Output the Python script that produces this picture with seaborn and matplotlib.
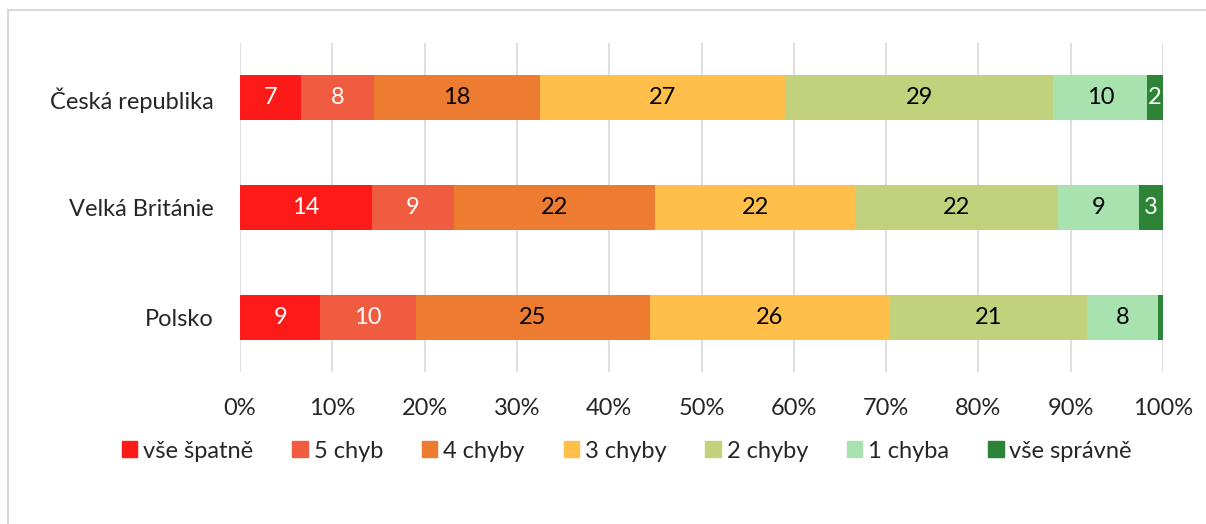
import matplotlib
matplotlib.use('Agg')
import matplotlib.pyplot as plt
import matplotlib.patches as mpatches
from matplotlib.ticker import PercentFormatter
import pandas as pd
import numpy as np
import seaborn as sns

countries = ['Česká republika', 'Velká Británie', 'Polsko']
categories = ['vše špatně', '5 chyb', '4 chyby', '3 chyby', '2 chyby', '1 chyba', 'vše správně']

# shares in % (rows = countries, in category order)
cz = [6.6, 7.9, 18.0, 26.6, 29.1, 10.2, 1.7]
gb = [14.3, 8.9, 21.8, 21.6, 22.0, 8.8, 2.6]
pl = [8.7, 10.3, 25.4, 25.9, 21.4, 7.7, 0.5]

colors = ['#FF1A1A', '#F05C40', '#ED7B30', '#FFBF4A', '#C2D27C', '#A8E2AE', '#2E8436']
label_colors = ['white', 'white', 'black', 'black', 'black', 'black', 'white']

sns.set_style('white')
plt.rcParams['font.family'] = ['Lato', 'DejaVu Sans']
fs = 17

vals = np.array([cz, gb, pl], dtype=float)
vals = vals / vals.sum(axis=1, keepdims=True)
left = np.zeros(len(countries))

fig = plt.figure(figsize=(12.06, 5.24), dpi=100)
ax = fig.add_axes([240/1206, 1-372/524, (1163-240)/1206, (372-43)/524])

for i, cat in enumerate(categories):
    df = pd.DataFrame({'country': countries, 'share': vals[:, i]})
    sns.barplot(data=df, x='share', y='country', orient='y', color=colors[i],
                width=0.41, left=left, ax=ax, saturation=1, linewidth=0, zorder=3)
    cont = ax.containers[-1]
    labels = [f'{v*100:.0f}' if v >= 0.01 else '' for v in vals[:, i]]
    ax.bar_label(cont, labels=labels, label_type='center', color=label_colors[i], fontsize=fs)
    left = left + vals[:, i]

ax.set_xlim(0, 1)
ax.set_ylim(2.5, -0.5)
ax.xaxis.set_major_locator(plt.MultipleLocator(0.1))
ax.xaxis.set_major_formatter(PercentFormatter(1.0, decimals=0))
ax.set_xlabel('')
ax.set_ylabel('')
ax.grid(axis='x', color='#D9D9D9', lw=1.2, zorder=0)
ax.set_axisbelow(True)
for s in ax.spines.values():
    s.set_visible(False)
ax.tick_params(axis='both', length=0, labelsize=fs)
ax.tick_params(axis='y', pad=19)
ax.tick_params(axis='x', pad=18.5)

handles = [mpatches.Patch(color=c, label=l) for c, l in zip(colors, categories)]
fig.legend(handles=handles, loc='center', bbox_to_anchor=(627/1206, 1-451/524), ncol=7,
           frameon=False, fontsize=fs, handlelength=0.65, handleheight=0.65,
           handletextpad=0.25, columnspacing=1.65)

# outer chart frame
fig.add_artist(mpatches.Rectangle((8/1206, -0.1), 1.2, 1-10/524+0.1, transform=fig.transFigure,
                                  fill=False, edgecolor='#D9D9D9', lw=1.5))

fig.savefig('out.png', dpi=100)
